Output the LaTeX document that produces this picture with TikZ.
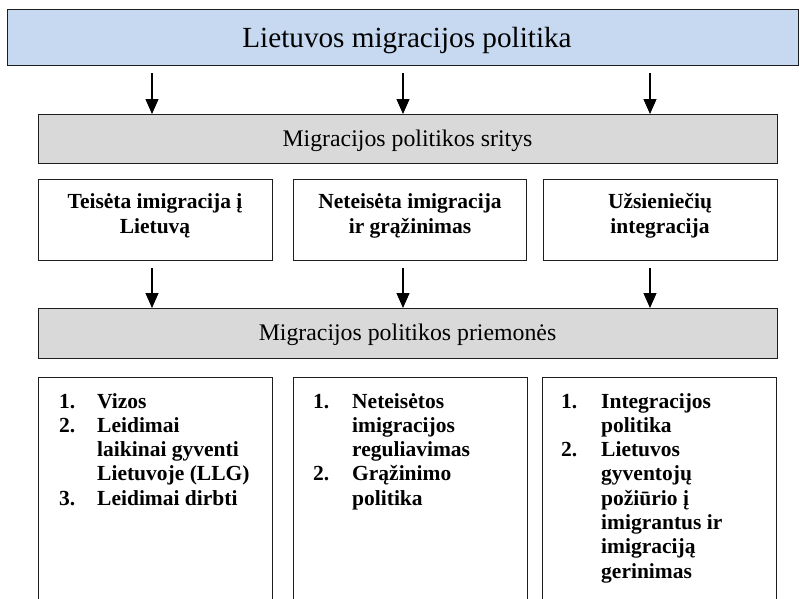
\documentclass[tikz,border=0pt]{standalone}
\usepackage{fontspec}
\setmainfont{Liberation Serif}
\usetikzlibrary{arrows.meta}
\definecolor{topblue}{RGB}{198,217,241}
\definecolor{grayfill}{RGB}{217,217,217}
\definecolor{edge}{RGB}{30,30,30}
\newcommand{\listfont}{\fontsize{21.5}{24.3}\selectfont\bfseries}
\begin{document}
\begin{tikzpicture}[x=1pt,y=-1pt,
  box/.style={draw=edge, line width=1.4pt, inner sep=0pt, anchor=north west},
  arr/.style={-{Triangle[width=13pt,length=15pt]}, line width=1.1pt, draw=black},
  titletext/.style={font=\fontsize{29.2}{32}\selectfont, anchor=base, inner sep=0pt},
  graytext/.style={font=\fontsize{23.8}{26}\selectfont, anchor=base, inner sep=0pt},
  areatext/.style={font=\fontsize{21.5}{24.5}\selectfont\bfseries, align=center, anchor=base, inner sep=0pt},
  listtext/.style={font=\listfont, anchor=base west, inner sep=0pt}]
\useasboundingbox (0,0) rectangle (800,598);
\fill[white] (0,0) rectangle (800,598);
% top box
\node[box, fill=topblue, minimum width=791pt, minimum height=56pt] (top) at (7,9) {};
\node[titletext] (toptxt) at (407,47) {Lietuvos migracijos politika};
% gray box 1
\node[box, fill=grayfill, minimum width=739pt, minimum height=49pt] (g1) at (38,114) {};
\node[graytext] (g1txt) at (407.5,146) {Migracijos politikos sritys};
% area boxes
\node[box, minimum width=234pt, minimum height=81pt] (b1) at (38,179) {};
\node[box, minimum width=233pt, minimum height=81pt] (b2) at (293,179) {};
\node[box, minimum width=234pt, minimum height=81pt] (b3) at (543,179) {};
\node[areatext] (b1txt) at (155,208) {Teisėta imigracija į};
\node[areatext] (b1txtb) at (155,233) {Lietuvą};
\node[areatext] (b2txt) at (410,208) {Neteisėta imigracija};
\node[areatext] (b2txtb) at (410,233) {ir grąžinimas};
\node[areatext] (b3txt) at (660,208) {Užsieniečių};
\node[areatext] (b3txtb) at (660,233) {integracija};
% gray box 2
\node[box, fill=grayfill, minimum width=739pt, minimum height=50pt] (g2) at (38,308) {};
\node[graytext] (g2txt) at (407.5,340.5) {Migracijos politikos priemonės};
% arrows top
\coordinate (a1) at (152,73);
\coordinate (a2) at (403,73);
\coordinate (a3) at (650,73);
\draw[arr] (a1) -- (a1 |- g1.north);
\draw[arr] (a2) -- (a2 |- g1.north);
\draw[arr] (a3) -- (a3 |- g1.north);
% arrows bottom
\coordinate (c1) at (152,268);
\coordinate (c2) at (403,268);
\coordinate (c3) at (650,268);
\draw[arr] (c1) -- (c1 |- g2.north);
\draw[arr] (c2) -- (c2 |- g2.north);
\draw[arr] (c3) -- (c3 |- g2.north);
% bottom boxes (cut off by page)
\begin{scope}
\clip (0,0) rectangle (800,598);
\node[box, minimum width=234pt, minimum height=240pt] (m1) at (38,377) {};
\node[box, minimum width=234pt, minimum height=240pt] (m2) at (293,377) {};
\node[box, minimum width=234pt, minimum height=240pt] (m3) at (542,377) {};
\end{scope}
\node[listtext] (l1) at (59,408) {\begin{tabular}[t]{@{}p{38pt}@{}l@{}}
1. & Vizos\\
2. & Leidimai\\
   & laikinai gyventi\\
   & Lietuvoje (LLG)\\
3. & Leidimai dirbti
\end{tabular}};
\node[listtext] (l2) at (313,408) {\begin{tabular}[t]{@{}p{39pt}@{}l@{}}
1. & Neteisėtos\\
   & imigracijos\\
   & reguliavimas\\
2. & Grąžinimo\\
   & politika
\end{tabular}};
\node[listtext] (l3) at (561,408) {\begin{tabular}[t]{@{}p{40pt}@{}l@{}}
1. & Integracijos\\
   & politika\\
2. & Lietuvos\\
   & gyventojų\\
   & požiūrio į\\
   & imigrantus ir\\
   & imigraciją\\
   & gerinimas
\end{tabular}};
\end{tikzpicture}
\end{document}
